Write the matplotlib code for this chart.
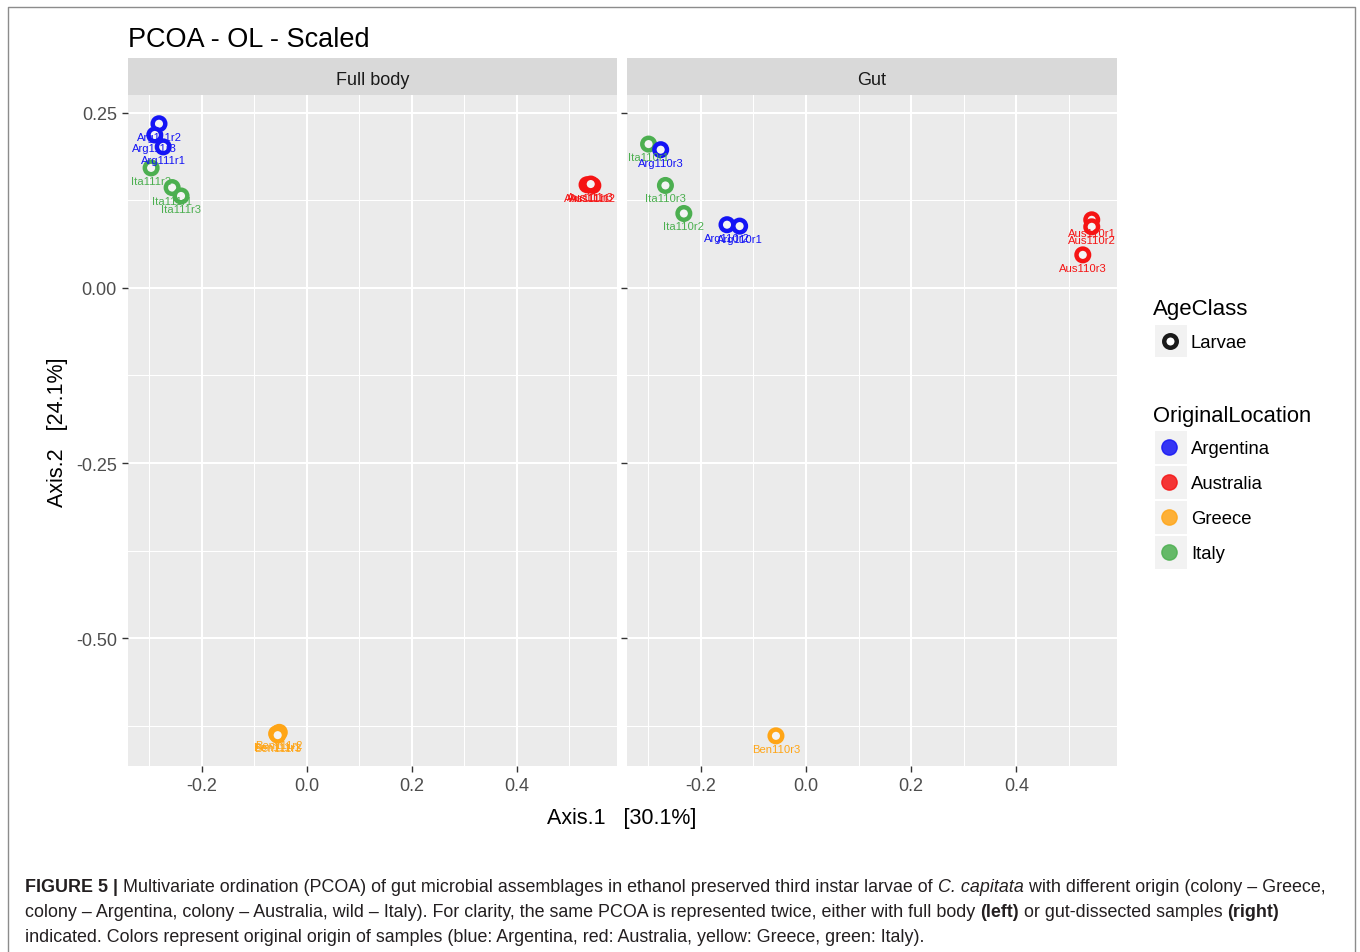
import matplotlib
matplotlib.use('Agg')
import matplotlib.pyplot as plt
from matplotlib import font_manager
from matplotlib.lines import Line2D

plt.rcParams['font.family'] = ['Liberation Sans', 'DejaVu Sans']

# ordination scores
fb_samples = ['Arg111r2', 'Arg111r3', 'Arg111r1',
              'Ita111r2', 'Ita111r1', 'Ita111r3',
              'Aus111r1', 'Aus111r2', 'Aus111r3',
              'Ben111r1', 'Ben111r2', 'Ben111r3']
fb_location = ['Argentina'] * 3 + ['Italy'] * 3 + ['Australia'] * 3 + ['Greece'] * 3
fb_axis1 = [-0.281, -0.289, -0.273, -0.296, -0.256, -0.239, 0.534, 0.545, 0.541, -0.057, -0.052, -0.055]
fb_axis2 = [0.234, 0.218, 0.201, 0.171, 0.143, 0.131, 0.147, 0.146, 0.148, -0.636, -0.634, -0.638]

gut_samples = ['Ita110r1', 'Arg110r3', 'Ita110r3', 'Ita110r2', 'Arg110r2', 'Arg110r1',
               'Aus110r1', 'Aus110r2', 'Aus110r3', 'Ben110r3']
gut_location = ['Italy', 'Argentina', 'Italy', 'Italy', 'Argentina', 'Argentina',
                'Australia', 'Australia', 'Australia', 'Greece']
gut_axis1 = [-0.299, -0.276, -0.267, -0.232, -0.150, -0.126, 0.543, 0.543, 0.526, -0.057]
gut_axis2 = [0.205, 0.197, 0.146, 0.106, 0.090, 0.088, 0.097, 0.087, 0.047, -0.639]

locations = ['Argentina', 'Australia', 'Greece', 'Italy']
loc_colors = {'Argentina': '#1414F5', 'Australia': '#F51414', 'Greece': '#FFA516', 'Italy': '#4CAF50'}
age_classes = ['Larvae']

x_ticks = [-0.2, 0.0, 0.2, 0.4]
x_ticklabels = ['-0.2', '0.0', '0.2', '0.4']
y_ticks = [0.25, 0.0, -0.25, -0.50]
y_ticklabels = ['0.25', '0.00', '-0.25', '-0.50']
x_minor = [-0.3, -0.1, 0.1, 0.3, 0.5]
y_minor = [0.125, -0.125, -0.375, -0.625]

W, H = 1360, 953
fig = plt.figure(figsize=(W / 100, H / 100), dpi=100)


def box(x0, y0, x1, y1):
    return [x0 / W, 1 - y1 / H, (x1 - x0) / W, (y1 - y0) / H]


def panel(rect, strip_rect, title, xs, ys, samples, locs, show_y):
    ax = fig.add_axes(rect)
    ax.set_facecolor('#EBEBEB')
    for s in ax.spines.values():
        s.set_visible(False)
    ax.set_xlim(-0.340, 0.591)
    ax.set_ylim(-0.682, 0.275)
    ax.set_xticks(x_ticks)
    ax.set_xticklabels(x_ticklabels)
    ax.set_xticks(x_minor, minor=True)
    ax.set_yticks(y_ticks)
    ax.set_yticks(y_minor, minor=True)
    if show_y:
        ax.set_yticklabels(y_ticklabels)
    else:
        ax.set_yticklabels([])
        ax.tick_params(axis='y', which='major', length=0)
    ax.tick_params(which='major', length=4, width=1, color='#333333',
                   labelcolor='#4D4D4D', labelsize=13, pad=4)
    ax.tick_params(which='minor', length=0)
    ax.grid(which='major', color='white', lw=1.5)
    ax.grid(which='minor', color='white', lw=0.75)
    ax.set_axisbelow(True)

    cols = [loc_colors[l] for l in locs]
    ax.scatter(xs, ys, s=82, facecolors='#F4F4F4', edgecolors=cols, linewidths=3.2, zorder=3)
    for x, y, lab, c in zip(xs, ys, samples, cols):
        ax.annotate(lab, (x, y), xytext=(0, -13), textcoords='offset pixels',
                    ha='center', va='center', fontsize=8.1, color=c, zorder=4)

    st = fig.add_axes(strip_rect)
    st.set_facecolor('#D9D9D9')
    st.set_xticks([])
    st.set_yticks([])
    for s in st.spines.values():
        s.set_visible(False)
    st.text(0.5, 0.42, title, ha='center', va='center', fontsize=13, color='#1A1A1A',
            transform=st.transAxes)
    return ax


ax1 = panel(box(128, 96, 617, 767), box(128, 59, 617, 96), 'Full body',
            fb_axis1, fb_axis2, fb_samples, fb_location, True)
ax2 = panel(box(627, 96, 1117, 767), box(627, 59, 1117, 96), 'Gut',
            gut_axis1, gut_axis2, gut_samples, gut_location, False)

# overlay in pixel coordinates for titles, legend, caption and border
ov = fig.add_axes([0, 0, 1, 1], zorder=10)
ov.set_xlim(0, W)
ov.set_ylim(H, 0)
ov.axis('off')

ov.plot([8, 8, 1355, 1355], [953, 8, 8, 953], color='#8C8C8C', lw=1)

ov.text(128, 40, 'PCOA - OL - Scaled', fontsize=19.5, ha='left', va='center', color='black')
ov.text(622, 819, 'Axis.1   [30.1%]', fontsize=15.5, ha='center', va='center', color='black')
ov.text(57, 432, 'Axis.2   [24.1%]', fontsize=15.5, ha='center', va='center',
        rotation=90, color='black')

# legends
ov.text(1153, 310, 'AgeClass', fontsize=16, ha='left', va='center')
ky = 342
for ac in age_classes:
    ov.add_patch(plt.Rectangle((1155, ky - 16), 32, 32, facecolor='#F2F2F2', edgecolor='none'))
    ov.add_line(Line2D([1170], [ky], marker='o', markersize=9, markerfacecolor='white',
                       markeredgecolor='#1A1A1A', markeredgewidth=3.2, linestyle='none'))
    ov.text(1191, ky + 2, ac, fontsize=13.3, ha='left', va='center')

ov.text(1153, 417, 'OriginalLocation', fontsize=15.8, ha='left', va='center')
ky = 448
for loc in locations:
    ov.add_patch(plt.Rectangle((1155, ky - 16), 32, 33, facecolor='#F2F2F2', edgecolor='none'))
    ov.add_line(Line2D([1169], [ky], marker='o', markersize=11, color=loc_colors[loc],
                       alpha=0.85, linestyle='none'))
    ov.text(1191, ky + 2, loc, fontsize=13.3, ha='left', va='center')
    ky += 35

# caption
try:
    font_manager.findfont(font_manager.FontProperties(family='Liberation Sans Narrow'),
                          fallback_to_default=False)
    cap_family = 'Liberation Sans Narrow'
except Exception:
    cap_family = 'Liberation Sans'

caption_lines = [
    [('FIGURE 5 |', 'bold', 'normal'),
     (' Multivariate ordination (PCOA) of gut microbial assemblages in ethanol preserved third instar larvae of ',
      'normal', 'normal'),
     ('C. capitata', 'normal', 'italic'),
     (' with different origin (colony \u2013 Greece,', 'normal', 'normal')],
    [('colony \u2013 Argentina, colony \u2013 Australia, wild \u2013 Italy). For clarity, the same PCOA is '
      'represented twice, either with full body ', 'normal', 'normal'),
     ('(left)', 'bold', 'normal'),
     (' or gut-dissected samples ', 'normal', 'normal'),
     ('(right)', 'bold', 'normal')],
    [('indicated. Colors represent original origin of samples (blue: Argentina, red: Australia, '
      'yellow: Greece, green: Italy).', 'normal', 'normal')],
]
caption_y = [892, 917, 942]

renderer = fig.canvas.get_renderer()


def seg_width(s, weight, style, size):
    t = ov.text(0, 0, '|' + s + '|', fontsize=size, family=cap_family, weight=weight, style=style)
    t2 = ov.text(0, 0, '||', fontsize=size, family=cap_family, weight=weight, style=style)
    w = t.get_window_extent(renderer).width - t2.get_window_extent(renderer).width
    t.remove()
    t2.remove()
    return w


base = 12
w1 = sum(seg_width(s, wt, st, base) for s, wt, st in caption_lines[0])
cap_size = base * (1327 - 25) / w1

for segs, y in zip(caption_lines, caption_y):
    x = 25
    for s, wt, st in segs:
        ov.text(x, y, s, fontsize=cap_size, family=cap_family, weight=wt, style=st,
                ha='left', va='baseline', color='#231F20')
        x += seg_width(s, wt, st, cap_size)

fig.savefig('out.png', dpi=100, facecolor='white')
